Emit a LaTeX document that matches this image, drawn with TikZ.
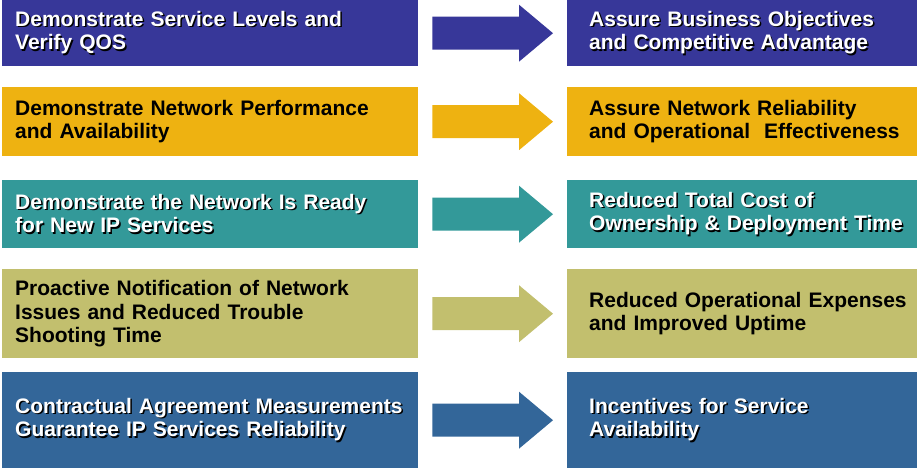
\documentclass[tikz,border=0pt]{standalone}
\usepackage{fontspec}
\setmainfont{Liberation Sans}
\usetikzlibrary{calc}
\definecolor{rowblue}{HTML}{373799}
\definecolor{rowgold}{HTML}{EEB211}
\definecolor{rowteal}{HTML}{339999}
\definecolor{rowolive}{HTML}{C2BF6E}
\definecolor{rowsteel}{HTML}{336699}
\newcommand{\shd}[1]{\makebox[0pt][l]{\hspace{1.5pt}\raisebox{-1.5pt}{\color{black}#1}}\mbox{#1}}

\begin{document}
\begin{tikzpicture}[x=1pt,y=-1pt,
    lbox/.style={anchor=north west, minimum width=416pt, minimum height=#1,
      text width=390pt, inner xsep=13pt, inner ysep=0pt, align=left,
      font=\fontsize{21}{23.5}\bfseries\selectfont},
    rbox/.style={lbox=#1, minimum width=350pt, text width=306pt, inner xsep=22pt}]
     \useasboundingbox (0,0) rectangle (917,468);
     \node[lbox=66pt, fill=rowblue, text=white] (dem1) at (2,0) {\shd{Demonstrate Service Levels and}\\\shd{Verify QOS}};
     \node[rbox=66pt, fill=rowblue, text=white] (ass1) at (567,0) {\shd{Assure Business Objectives}\\\shd{and Competitive Advantage}};
     \node[lbox=69pt, fill=rowgold] (dem2) at (2,87) {\mbox{Demonstrate Network Performance}\\\mbox{and Availability}};
     \node[rbox=69pt, fill=rowgold] (ass2) at (567,87) {\mbox{Assure Network Reliability}\\\mbox{and Operational~ Effectiveness}};
     \node[lbox=68pt, fill=rowteal, text=white] (dem3) at (2,180) {\shd{Demonstrate the Network Is Ready}\\\shd{for New IP Services}};
     \node[rbox=68pt, fill=rowteal, text=white] (ass3) at (567,180) {\shd{Reduced Total Cost of}\\\shd{Ownership \& Deployment Time}};
     \node[lbox=89pt, fill=rowolive] (dem4) at (2,269) {\mbox{Proactive Notification of Network}\\\mbox{Issues and Reduced Trouble}\\\mbox{Shooting Time}};
     \node[rbox=89pt, fill=rowolive] (ass4) at (567,269) {\mbox{Reduced Operational Expenses}\\\mbox{and Improved Uptime}};
     \node[lbox=96pt, fill=rowsteel, text=white] (dem5) at (2,372) {\shd{Contractual Agreement Measurements}\\\shd{Guarantee IP Services Reliability}};
     \node[rbox=96pt, fill=rowsteel, text=white] (ass5) at (567,372) {\shd{Incentives for Service}\\\shd{Availability}};
     \foreach \a/\b/\c in {dem1/ass1/rowblue, dem2/ass2/rowgold, dem3/ass3/rowteal, dem4/ass4/rowolive, dem5/ass5/rowsteel}
       \fill[\c] ($(\a.east)+(14,-16.5)$) -- ($(\b.west)+(-48,-16.5)$) -- ($(\b.west)+(-48,-28.5)$)
         -- ($(\b.west)+(-14,0)$) -- ($(\b.west)+(-48,28.5)$) -- ($(\b.west)+(-48,16.5)$)
         -- ($(\a.east)+(14,16.5)$) -- cycle;
    \end{tikzpicture}
\end{document}
